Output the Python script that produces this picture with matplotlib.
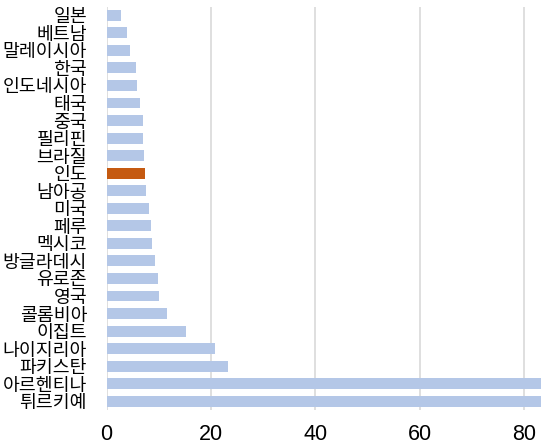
import matplotlib
matplotlib.use("Agg")
import matplotlib.pyplot as plt

countries = ["일본", "베트남", "말레이시아", "한국", "인도네시아", "태국", "중국", "필리핀",
             "브라질", "인도", "남아공", "미국", "페루", "멕시코", "방글라데시", "유로존",
             "영국", "콜롬비아", "이집트", "나이지리아", "파키스탄", "아르헨티나", "튀르키예"]
values = [2.8, 4.0, 4.4, 5.6, 5.9, 6.4, 6.9, 6.9,
          7.2, 7.4, 7.5, 8.2, 8.5, 8.7, 9.2, 9.9,
          10.1, 11.5, 15.2, 20.8, 23.2, 84.0, 85.5]
highlight = "인도"
xticks = [0, 20, 40, 60, 80]

blue = "#B4C7E7"
orange = "#C55A11"

fig = plt.figure(figsize=(5.41, 4.46), dpi=100)
ax = fig.add_axes([0.197, 0.0807, 0.803, 0.9047])

colors = [orange if c == highlight else blue for c in countries]
ypos = list(range(len(countries)))
ax.barh(ypos, values, height=0.62, color=colors, zorder=3)

ax.set_ylim(len(countries) - 0.5, -0.5)
ax.set_xlim(0, 83.2)
ax.set_yticks(ypos)
ax.set_yticklabels(countries, fontfamily=["Noto Sans CJK KR", "DejaVu Sans"], fontsize=13.2)
ax.set_xticks(xticks)
ax.set_xticklabels([str(t) for t in xticks], fontfamily="Liberation Sans", fontsize=15.5)
ax.tick_params(axis="y", length=0, pad=14)
ax.tick_params(axis="x", length=0, pad=10)
ax.grid(axis="x", color="#D9D9D9", linewidth=1.2, zorder=0)
for s in ax.spines.values():
    s.set_visible(False)

fig.savefig("out.png", dpi=100)
